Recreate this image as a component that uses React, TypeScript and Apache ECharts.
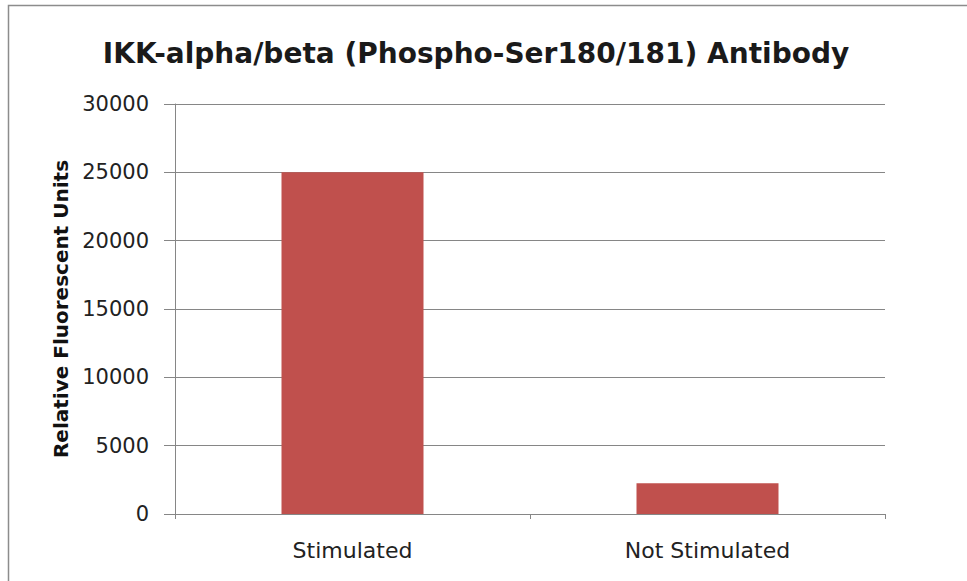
import React, { useEffect, useRef } from "react";
import * as echarts from "echarts";

const categories = ["Stimulated", "Not Stimulated"];
const values = [25000, 2250];
const yTicks = [0, 5000, 10000, 15000, 20000, 25000, 30000];

export default function App() {
  const ref = useRef<HTMLDivElement>(null);
  useEffect(() => {
    if (!ref.current) return;
    const chart = echarts.init(ref.current, undefined, { renderer: "svg" });
    chart.setOption({
      animation: false,
      backgroundColor: "#ffffff",
      textStyle: { fontFamily: "DejaVu Sans" },
      title: {
        text: "IKK-alpha/beta (Phospho-Ser180/181) Antibody",
        left: 471,
        textAlign: "center",
        top: 34,
        textStyle: { fontFamily: "DejaVu Sans", fontWeight: "bold", fontSize: 28, color: "#1a1a1a" },
      },
      graphic: [
        {
          type: "rect",
          shape: { x: 8.5, y: 5.5, width: 1000, height: 700 },
          style: { fill: "none", stroke: "#8c8c8c", lineWidth: 1.5 },
          silent: true,
          z: 100,
        },
      ],
      grid: { left: 175, right: 82, top: 104, bottom: 67 },
      xAxis: {
        type: "category",
        data: categories,
        axisLine: { lineStyle: { color: "#868686", width: 1 } },
        axisTick: { show: true, alignWithLabel: false, length: 5, lineStyle: { color: "#868686" } },
        axisLabel: { margin: 25, fontSize: 22, color: "#222", fontFamily: "DejaVu Sans" },
      },
      yAxis: {
        type: "value",
        min: yTicks[0],
        max: yTicks[yTicks.length - 1],
        interval: 5000,
        name: "Relative Fluorescent Units",
        nameLocation: "middle",
        nameGap: 101,
        nameTextStyle: { fontFamily: "DejaVu Sans", fontWeight: "bold", fontSize: 20, color: "#111" },
        axisLine: { show: true, lineStyle: { color: "#868686", width: 1 } },
        axisTick: { show: true, length: 11, lineStyle: { color: "#868686" } },
        axisLabel: {
          margin: 26,
          fontSize: 21,
          color: "#222",
          fontFamily: "DejaVu Sans",
          formatter: (v: number) => String(v),
        },
        splitLine: { lineStyle: { color: "#868686", width: 1 } },
      },
      series: [
        {
          type: "bar",
          data: values,
          barWidth: "40%",
          itemStyle: { color: "#C0504D" },
        },
      ],
    });
    return () => chart.dispose();
  }, []);
  return (
    <div
      ref={ref}
      style={{ position: "fixed", left: 0, top: 0, width: 967, height: 581 }}
    />
  );
}
